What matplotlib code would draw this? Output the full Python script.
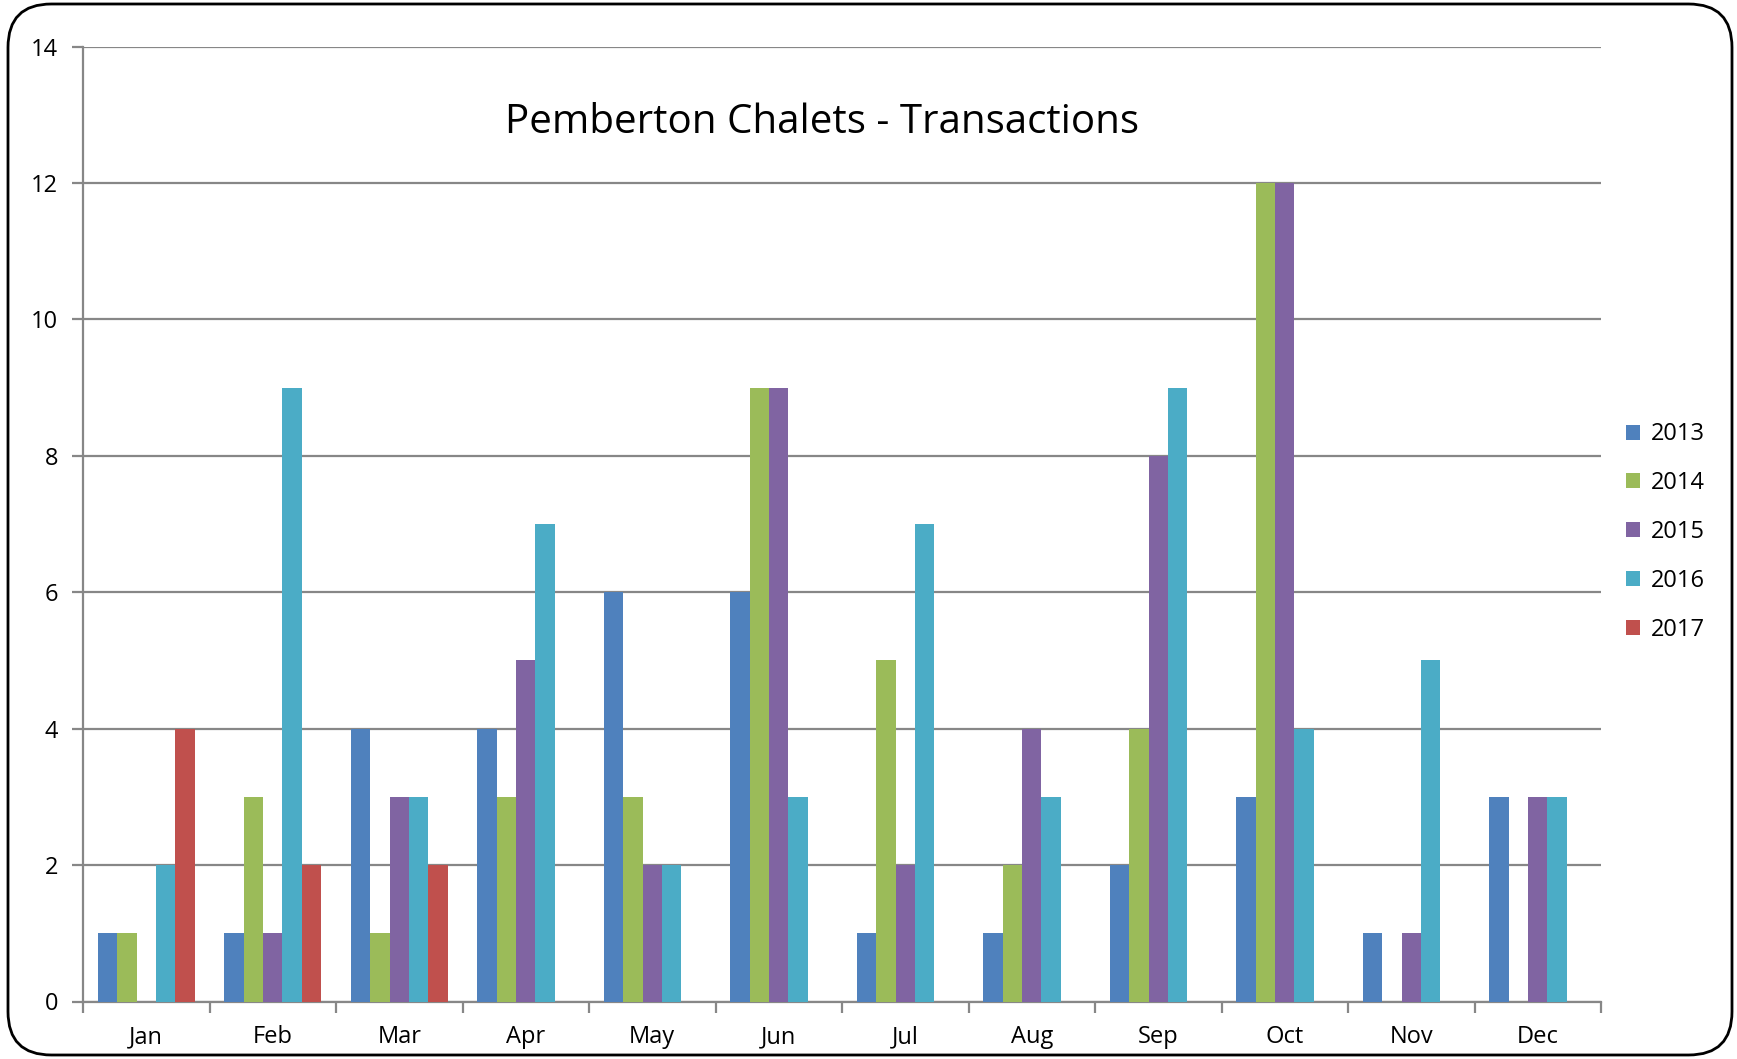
import numpy as np
import matplotlib
matplotlib.use('Agg')
import matplotlib.pyplot as plt
from matplotlib.patches import FancyBboxPatch, Patch

months = ['Jan', 'Feb', 'Mar', 'Apr', 'May', 'Jun',
          'Jul', 'Aug', 'Sep', 'Oct', 'Nov', 'Dec']
years = ['2013', '2014', '2015', '2016', '2017']
v2013 = [1, 1, 4, 4, 6, 6, 1, 1, 2, 3, 1, 3]
v2014 = [1, 3, 1, 3, 3, 9, 5, 2, 4, 12, 0, 0]
v2015 = [0, 1, 3, 5, 2, 9, 2, 4, 8, 12, 1, 3]
v2016 = [2, 9, 3, 7, 2, 3, 7, 3, 9, 4, 5, 3]
v2017 = [4, 2, 2, 0, 0, 0, 0, 0, 0, 0, 0, 0]
series = [v2013, v2014, v2015, v2016, v2017]
colors = ['#4f81bd', '#9bbb59', '#8064a2', '#4bacc6', '#c0504d']

plt.rcParams['font.family'] = ['Open Sans', 'DejaVu Sans']

fig = plt.figure(figsize=(17.37, 10.59), dpi=100)
ax = fig.add_axes([83 / 1737, 1 - 1001.5 / 1059, (1601 - 83) / 1737, (1001.5 - 46.5) / 1059])

# rounded frame around the whole chart
frame = FancyBboxPatch((8 / 1737, 4 / 1059), 1724 / 1737, 1051 / 1059,
                       boxstyle="round,pad=0,rounding_size=0.025",
                       transform=fig.transFigure, fill=False,
                       edgecolor='black', linewidth=2.0, mutation_aspect=1737 / 1059)
fig.patches.append(frame)

x = np.arange(len(months))
w = 1 / 6.5
for i, (vals, c) in enumerate(zip(series, colors)):
    ax.bar(x - 2 * w + i * w, vals, width=w, color=c, linewidth=0, zorder=3)

ax.set_xlim(-0.5, 11.5)
ax.set_ylim(0, 14)
ax.set_yticks(range(0, 15, 2))
ax.yaxis.grid(True, color='#878787', linewidth=1.6, zorder=0)
ax.set_xticks(np.arange(-0.5, 12, 1))
ax.set_xticklabels([])
ax.set_xticks(x, minor=True)
ax.set_xticklabels(months, minor=True, fontsize=17)
ax.tick_params(axis='x', which='minor', length=0, pad=17)
ax.tick_params(axis='x', which='major', length=8, width=1.6, color='#878787')
ax.tick_params(axis='y', length=8, width=1.6, color='#878787', labelsize=17, pad=10)

for s in ['top', 'right']:
    ax.spines[s].set_visible(False)
for s in ['left', 'bottom']:
    ax.spines[s].set_color('#878787')
    ax.spines[s].set_linewidth(1.6)

fig.text(822 / 1737, 1 - 123 / 1059, 'Pemberton Chalets - Transactions',
         ha='center', va='center', fontsize=29)

handles = [Patch(facecolor=c, label=y) for c, y in zip(colors, years)]
fig.legend(handles=handles, loc='center left', bbox_to_anchor=(1605 / 1737, 1 - 532 / 1059),
           frameon=False, fontsize=17, handlelength=0.6, handleheight=0.6,
           handletextpad=0.45, labelspacing=1.05)

fig.savefig('out.png', dpi=100)
